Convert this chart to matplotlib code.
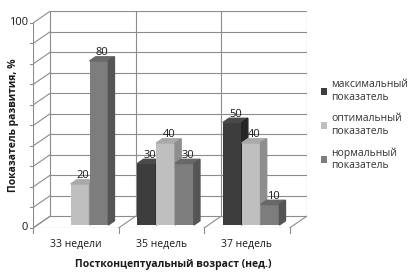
import matplotlib.pyplot as plt
from matplotlib.patches import Patch

categories = ["33 недели", "35 недель", "37 недель"]
series_names = ["максимальный\nпоказатель", "оптимальный\nпоказатель", "нормальный\nпоказатель"]
max_vals = [0, 30, 50]
opt_vals = [20, 40, 40]
norm_vals = [80, 30, 10]
y_labels = [0, 100]

front_colors = ["#3d3d3d", "#bfbfbf", "#7d7d7d"]
side_colors = ["#252525", "#8e8e8e", "#555555"]
top_colors = ["#4a4a4a", "#a9a9a9", "#686868"]

plt.rcParams['font.family'] = ['Open Sans', 'DejaVu Sans']
plt.rcParams['font.size'] = 7.5

fig = plt.figure(figsize=(4.13, 2.72), dpi=100)
ax = fig.add_axes([33/413, 44/272, 274/413, 217/272])

# fake 3d depth of the back wall, in data units
DX = 0.204
DY = 5.85
n = len(categories)
grid_c = "#8c8c8c"
lw = 0.8

ax.set_xlim(0, n + DX)
ax.set_ylim(0, 100 + DY)
ax.axis('off')

# back wall + left wall
for v in range(0, 101, 10):
    ax.plot([DX, n + DX], [v + DY, v + DY], color=grid_c, lw=lw, zorder=1)
    ax.plot([0, DX], [v, v + DY], color=grid_c, lw=lw, zorder=1)
    ax.plot([-0.035, 0], [v, v], color=grid_c, lw=lw, clip_on=False)
ax.plot([0, 0], [0, 100], color=grid_c, lw=lw)
ax.plot([DX, DX], [DY, 100 + DY], color=grid_c, lw=lw, zorder=1)
for k in range(1, n + 1):
    ax.plot([k + DX, k + DX], [DY, 100 + DY], color=grid_c, lw=lw, zorder=1)

# floor
ax.plot([0, n], [0, 0], color=grid_c, lw=lw, zorder=1)
for k in range(0, n + 1):
    ax.plot([k, k + DX], [0, DY], color=grid_c, lw=lw, zorder=1)
    ax.plot([k, k], [0, -2.6], color=grid_c, lw=lw, clip_on=False)

for v in y_labels:
    ax.text(-0.06, v, str(v), ha='right', va='center', fontsize=8, color='#1a1a1a')

# bars
w = 0.22
start = 0.17
f0, f1 = 0.25, 0.6
dd = (f1 - f0) * DX
ddy = (f1 - f0) * DY
base = f0 * DY
series = [max_vals, opt_vals, norm_vals]
for i, vals in enumerate(series):
    xs = [g + start + i * w + f0 * DX for g in range(n)]
    z = 3 + i
    ax.bar(xs, vals, width=w, bottom=base, align='edge', color=front_colors[i], zorder=z)
    for x, v in zip(xs, vals):
        if v == 0:
            continue
        top = base + v
        ax.fill([x, x + w, x + w + dd, x + dd], [top, top, top + ddy, top + ddy],
                color=top_colors[i], zorder=z)
        ax.fill([x + w, x + w + dd, x + w + dd, x + w], [base, base + ddy, top + ddy, top],
                color=side_colors[i], zorder=z)
        ax.text(x + w / 2 + dd / 2, top + ddy + 0.8, str(v), ha='center', va='baseline',
                fontsize=8, color='#1a1a1a', zorder=10)

for g, lab in enumerate(categories):
    ax.text(g + 0.5, -8, lab, ha='center', va='center', fontsize=7.5, color='#1a1a1a')

fig.text(173/413, 1 - 264/272, "Постконцептуальный возраст (нед.)", ha='center', va='center',
         fontsize=7.5, fontweight='bold', color='#1a1a1a')
fig.text(14/413, 1 - 125/272, "Показатель развития, %", ha='center', va='center',
         rotation=90, fontsize=7.5, fontweight='bold', color='#1a1a1a')

handles = [Patch(facecolor=c, edgecolor='none') for c in front_colors]
fig.legend(handles, series_names, loc='upper left', bbox_to_anchor=(316/413, 1 - 74/272),
           frameon=False, fontsize=7.5, handlelength=0.6, handleheight=0.6,
           handletextpad=0.4, labelspacing=1.0, borderpad=0, labelcolor='#333333')

fig.savefig("out.png", dpi=100)
